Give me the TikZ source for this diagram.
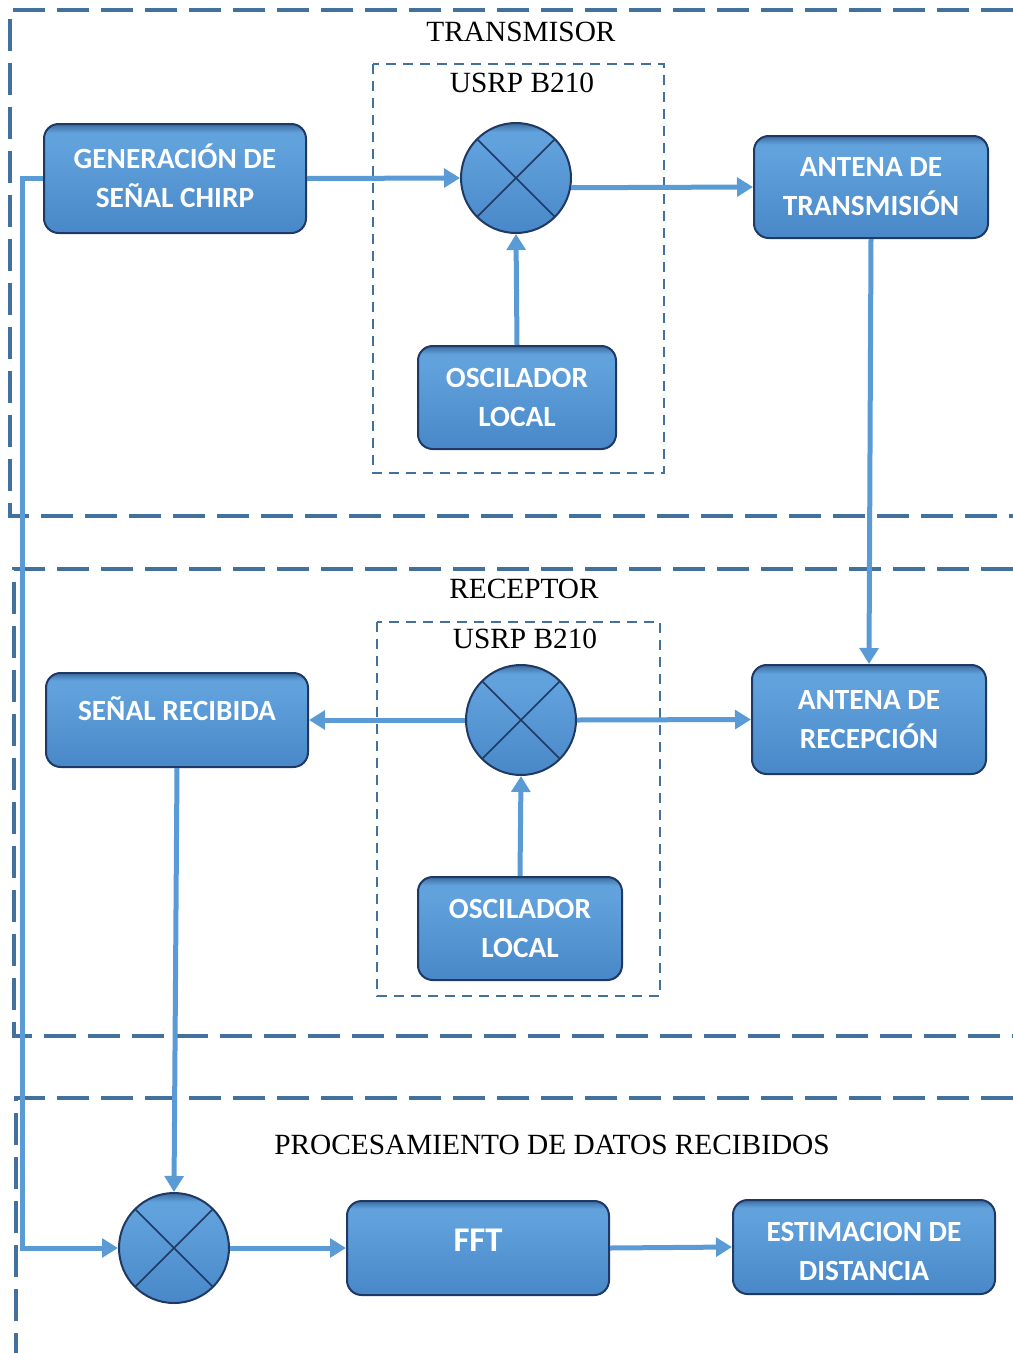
\documentclass[tikz,border=0pt]{standalone}
\usepackage{fontspec}
\setmainfont{Liberation Serif}
\newfontfamily\blockfont{Carlito}
\usetikzlibrary{arrows.meta}

\definecolor{frameblue}{HTML}{41719C}
\definecolor{flowblue}{HTML}{5B9BD5}
\definecolor{edgenavy}{HTML}{1F3864}
\definecolor{fillbot}{HTML}{4888C8}
\definecolor{fillmid}{HTML}{61A1DC}
\definecolor{filltop}{HTML}{3C6C9E}

% body colour of the blocks: darker rim on top, lighter band, darker toward the bottom
\pgfdeclareverticalshading{blockshade}{100bp}{%
  color(0bp)=(fillbot); color(25bp)=(fillbot); color(66bp)=(fillmid);
  color(71bp)=(fillmid); color(75bp)=(filltop); color(100bp)=(filltop)}

\tikzset{
  section/.style={draw=frameblue, line width=3pt, dash pattern=on 24pt off 9pt},
  usrp/.style={draw=frameblue, line width=1.5pt, dash pattern=on 7.5pt off 5.25pt},
  block/.style={draw=edgenavy, line width=1.5pt, rounded corners=11pt,
    shading=blockshade, text=white, align=center, inner sep=0pt,
    font=\blockfont\bfseries\fontsize{22}{29.25}\selectfont},
  mixer/.style={circle, draw=edgenavy, line width=1.5pt, shading=blockshade,
    minimum size=82.5pt, inner sep=0pt,
    path picture={
      \draw[edgenavy, line width=1.2pt]
        (path picture bounding box.north west) -- (path picture bounding box.south east)
        (path picture bounding box.north east) -- (path picture bounding box.south west);}},
  flow/.style={draw=flowblue, line width=3.75pt,
    -{Triangle[width=14pt, length=12pt]}},
  heading/.style={font=\fontsize{22}{26}\selectfont, inner sep=0pt}
}

\begin{document}
\begin{tikzpicture}[x=0.75pt, y=-0.75pt]
\useasboundingbox (0,0) rectangle (1013,1353);

% section frames, open on the right
\draw[section] (1013,10) -- (10,10) -- (10,516) -- (1013,516);
\draw[section] (1013,569) -- (14,569) -- (14,1036) -- (1013,1036);
\draw[section] (1013,1098) -- (16,1098) -- (16,1353);

% USRP enclosures
\draw[usrp] (373,64) rectangle (664,473);
\draw[usrp] (377,622) rectangle (660,996);

% headings
\node[heading] (ttx)  at (521,32)   {TRANSMISOR};
\node[heading] (tu1)  at (522,83)   {USRP B210};
\node[heading] (trx)  at (524,589)  {RECEPTOR};
\node[heading] (tu2)  at (525,639)  {USRP B210};
\node[heading] (tpr)  at (552,1145) {PROCESAMIENTO DE DATOS RECIBIDOS};

% transmitter
\node[block, minimum width=196.5pt, minimum height=81.75pt] (gen) at (175,178.5)
  {\raisebox{2pt}[\height][\depth]{GENERACIÓN DE}\\\raisebox{2pt}[\height][\depth]{SEÑAL CHIRP}};
\node[mixer] (mx1) at (516,178) {};
\node[block, minimum width=175.5pt, minimum height=76.5pt] (atx) at (871,187)
  {ANTENA DE\\TRANSMISIÓN};
\node[block, minimum width=148.5pt, minimum height=77.25pt] (osc1) at (517,397.5)
  {OSCILADOR\\LOCAL};

% receiver
\node[block, minimum width=175.5pt, minimum height=81.75pt] (arx) at (869,719.5)
  {ANTENA DE\\RECEPCIÓN};
\node[mixer] (mx2) at (521,720) {};
\node[block, minimum width=196.5pt, minimum height=70.5pt] (srec) at (177,720)
  {\raisebox{8.25pt}[\height][\depth]{SEÑAL RECIBIDA}};
\node[block, minimum width=153pt, minimum height=77.25pt] (osc2) at (520,928.5)
  {OSCILADOR\\LOCAL};

% processing
\node[mixer] (mx3) at (174,1248) {};
\node[block, minimum width=196.5pt, minimum height=70.5pt,
  font=\blockfont\bfseries\fontsize{26}{30}\selectfont] (fft) at (478,1248)
  {\raisebox{6pt}[\height][\depth]{FFT}};
\node[block, minimum width=196.5pt, minimum height=70.5pt] (est) at (864,1247)
  {\raisebox{-3pt}[\height][\depth]{ESTIMACION DE}\\\raisebox{-3pt}[\height][\depth]{DISTANCIA}};

% signal flow
\draw[flow] (gen.east) -- (mx1.west);
\draw[flow] (mx1.-10) -- (atx.west);
\draw[flow] (osc1.north) -- (mx1.south);
\draw[flow] (atx.south) -- (arx.north);
\draw[flow] (mx2.west) -- (srec.east);
\draw[flow] (mx2.east) -- (arx.west);
\draw[flow] (osc2.north) -- (mx2.south);
\draw[flow] (srec.south) -- (mx3.north);
\coordinate (down) at (22,178.5);
\draw[flow] (gen.west) -- (down) |- (mx3.west);
\draw[flow] (mx3.east) -- (fft.west);
\draw[flow] (fft.east) -- (est.west);
\end{tikzpicture}
\end{document}
